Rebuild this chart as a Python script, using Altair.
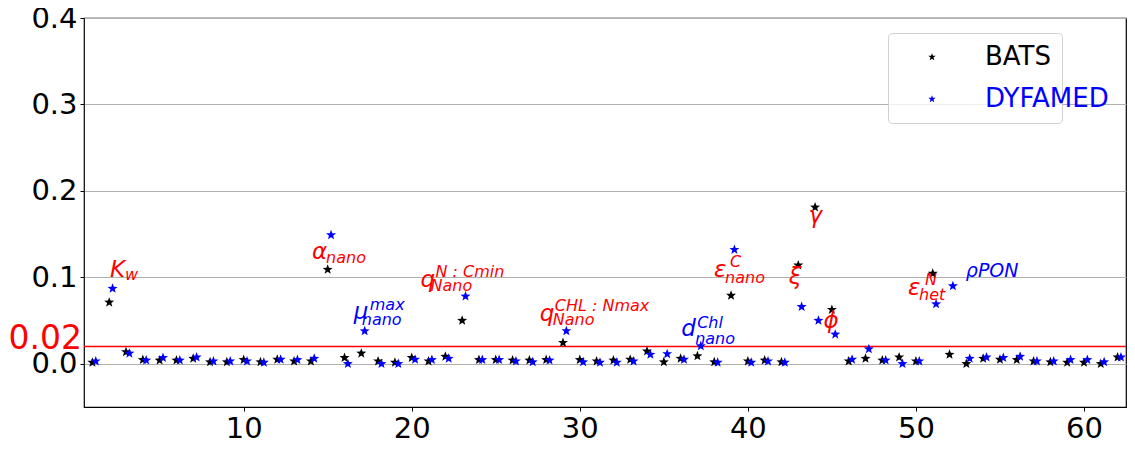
import math
import altair as alt
import pandas as pd

# ---------------- data ----------------
param_index = list(range(1, 63))

bats = [
    0.0015, 0.071, 0.0137, 0.0046, 0.004, 0.004, 0.006, 0.002, 0.002, 0.0046,
    0.002, 0.005, 0.003, 0.003, 0.109, 0.007, 0.012, 0.003, 0.0015, 0.007,
    0.003, 0.0084, 0.050, 0.0046, 0.0046, 0.004, 0.004, 0.0046, 0.0244, 0.0046,
    0.003, 0.004, 0.005, 0.0145, 0.002, 0.006, 0.009, 0.002, 0.079, 0.003,
    0.004, 0.002, 0.114, 0.181, 0.0626, 0.003, 0.006, 0.004, 0.0076, 0.003,
    0.1045, 0.0107, 0.0, 0.006, 0.005, 0.0046, 0.003, 0.002, 0.0015, 0.0015,
    0.0, 0.0076,
]

dyfamed = [
    0.003, 0.087, 0.012, 0.004, 0.007, 0.004, 0.0076, 0.003, 0.003, 0.003,
    0.0015, 0.005, 0.0046, 0.006, 0.149, 0.0, 0.0378, 0.0, 0.0, 0.005,
    0.0046, 0.006, 0.078, 0.0046, 0.0046, 0.003, 0.002, 0.004, 0.038, 0.002,
    0.0015, 0.0015, 0.003, 0.0107, 0.0114, 0.005, 0.0206, 0.0015, 0.132, 0.0015,
    0.003, 0.0015, 0.066, 0.050, 0.034, 0.005, 0.017, 0.004, 0.0, 0.003,
    0.069, 0.090, 0.006, 0.0076, 0.007, 0.0084, 0.003, 0.003, 0.0046, 0.0046,
    0.002, 0.0076,
]

series_names = ["BATS", "DYFAMED"]
series_colors = ["black", "blue"]

threshold = [0.02]
threshold_label = ["0.02"]
x_ticks = [10, 20, 30, 40, 50, 60]
y_ticks = [0.0, 0.1, 0.2, 0.3, 0.4]

# annotations (anchor in data coordinates)
ann_main = ["K", "α", "μ", "q", "q", "d", "ε", "ξ", "γ", "ϕ", "ε", "ρPON"]
ann_sub = ["w", "nano", "nano", "Nano", "Nano", "nano", "nano", "", "", "", "het", ""]
ann_sup = ["", "", "max", "N : Cmin", "CHL : Nmax", "Chl", "C", "", "", "", "N", ""]
ann_color = ["red", "red", "blue", "red", "red", "blue", "red", "red", "red", "red", "red", "blue"]
ann_x = [2.05, 14.07, 16.55, 20.52, 27.62, 36.03, 37.99, 42.43, 43.61, 44.50, 49.53, 52.97]
ann_y = [0.1007, 0.1213, 0.0515, 0.0892, 0.0492, 0.032, 0.1007, 0.0927, 0.1625, 0.0412, 0.0801, 0.1007]

# ---------------- layout / style ----------------
W, H = 1042, 389
X_DOM = [0.5, 62.5]
Y_DOM = [-0.05, 0.4]
px_x = W / (X_DOM[1] - X_DOM[0])
px_y = H / (Y_DOM[1] - Y_DOM[0])

# font size of each main annotation glyph, and sub/superscript pixel offsets (style)
ann_size = [23, 23, 23, 23, 23, 23, 23, 23, 23, 23, 23, 19]
sub_dx = [15, 14, 8, 10, 13, 14, 11, 0, 0, 0, 11, 0]
sub_dy = [3, 4, 6, 4, 4, 8, 6, 0, 0, 0, 5, 0]
sup_dx = [0, 0, 16, 15, 15, 16, 16, 0, 0, 0, 17, 0]
sup_dy = [0, 0, -9, -10, -10, -8, -10, 0, 0, 0, -10, 0]

FONT = "DejaVu Sans"
LEG_X, LEG_Y, LEG_ROW = 804, 15, 42
BLANK = "\u00a0" * 16  # keeps the framed legend as wide as the DYFAMED entry

# five-pointed star marker as a unit SVG path (Vega has no built-in star)
_pts = []
for k in range(10):
    r = 1.0 if k % 2 == 0 else 0.42
    a = math.radians(90 - 36 * k)
    _pts.append(f"{r * math.cos(a):.3f},{-r * math.sin(a):.3f}")
STAR = "M" + " L".join(_pts) + " Z"

bats_df = pd.DataFrame({"idx": param_index, "value": bats, "series": series_names[0]})
dyf_df = pd.DataFrame({"idx": param_index, "value": dyfamed, "series": series_names[1],
                       "lbl": series_names[1]})

main_df = pd.DataFrame({"x": ann_x, "y": ann_y, "t": ann_main, "c": ann_color, "s": ann_size})
sub_rows, sup_rows = [], []
for i in range(len(ann_main)):
    if ann_sub[i]:
        sub_rows.append({"x": ann_x[i] + sub_dx[i] / px_x, "y": ann_y[i] - sub_dy[i] / px_y,
                         "t": ann_sub[i], "c": ann_color[i], "s": 16})
    if ann_sup[i]:
        sup_rows.append({"x": ann_x[i] + sup_dx[i] / px_x, "y": ann_y[i] - sup_dy[i] / px_y,
                         "t": ann_sup[i], "c": ann_color[i], "s": 16})
sub_df = pd.DataFrame(sub_rows)
sup_df = pd.DataFrame(sup_rows)
thr_df = pd.DataFrame({"y": threshold, "t": threshold_label, "x": [X_DOM[0]]})

x_scale = alt.Scale(domain=X_DOM, nice=False, zero=False)
y_scale = alt.Scale(domain=Y_DOM, nice=False, zero=False)

x_axis = alt.Axis(
    values=x_ticks, title=None, grid=False, labelFontSize=29, labelFont=FONT,
    labelColor="black", tickColor="black", tickSize=4, labelPadding=3,
    domain=False, labelFlush=False, labelOverlap=False,
)
y_axis = alt.Axis(
    values=y_ticks, title=None, grid=True, format=".1f",
    labelFontSize=29, labelColor="black", gridColor="#b0b0b0", tickColor="black",
    labelFont=FONT, tickSize=4, labelPadding=3, domain=False,
    labelFlush=False, labelOverlap=False,
)

common_leg = dict(
    title=None, orient="none", legendX=LEG_X, symbolType=STAR, symbolSize=60,
    labelFontSize=26, labelFont=FONT, padding=11, symbolOffset=20, labelOffset=40,
    rowPadding=16,
)

bats_layer = alt.Chart(bats_df).mark_point(
    shape=STAR, filled=True, size=110, opacity=1
).encode(
    x=alt.X("idx:Q", scale=x_scale, axis=x_axis),
    y=alt.Y("value:Q", scale=y_scale, axis=y_axis),
    color=alt.Color(
        "series:N",
        scale=alt.Scale(domain=series_names, range=series_colors),
        legend=alt.Legend(
            legendY=LEG_Y, labelColor="black",
            labelExpr="datum.label == 'DYFAMED' ? '" + BLANK + "' : datum.label",
            strokeColor="#d0d0d0", fillColor="rgba(255,255,255,0.8)", cornerRadius=4,
            **common_leg,
        ),
    ),
)

dyf_layer = alt.Chart(dyf_df).transform_calculate(
    xpos="datum.idx + 0.2"
).mark_point(shape=STAR, filled=True, size=110, opacity=1).encode(
    x=alt.X("xpos:Q", scale=x_scale),
    y=alt.Y("value:Q", scale=y_scale),
    color=alt.Color("series:N", scale=alt.Scale(domain=series_names, range=series_colors)),
    shape=alt.Shape(
        "lbl:N",
        scale=alt.Scale(domain=[series_names[1]], range=[STAR]),
        legend=alt.Legend(
            legendY=LEG_Y + LEG_ROW, labelColor="blue", symbolOpacity=0,
            **common_leg,
        ),
    ),
)

thr_rule = alt.Chart(thr_df).mark_rule(color="red", strokeWidth=1.5).encode(
    y=alt.Y("y:Q", scale=y_scale)
)
thr_text = alt.Chart(thr_df).mark_text(
    align="right", baseline="middle", fontSize=33, font=FONT, color="red", dx=-2, dy=-7
).encode(
    x=alt.X("x:Q", scale=x_scale),
    y=alt.Y("y:Q", scale=y_scale),
    text="t:N",
)


def text_layer(df):
    return alt.Chart(df).mark_text(
        align="left", baseline="alphabetic", font=FONT, fontStyle="italic"
    ).encode(
        x=alt.X("x:Q", scale=x_scale),
        y=alt.Y("y:Q", scale=y_scale),
        text="t:N",
        fill=alt.Fill("c:N", scale=None),
        size=alt.Size("s:Q", scale=None),
    )


chart = alt.layer(
    thr_rule,
    bats_layer,
    dyf_layer,
    thr_text,
    text_layer(main_df),
    text_layer(sub_df),
    text_layer(sup_df),
).properties(
    width=W, height=H,
    background="white",
    autosize=alt.AutoSizeParams(type="none"),
    padding={"left": 76, "top": 10, "right": 1, "bottom": 35},
).configure_view(stroke="black", strokeWidth=1.2)

chart.save("out.html", embed_options={"renderer": "svg", "actions": False})
